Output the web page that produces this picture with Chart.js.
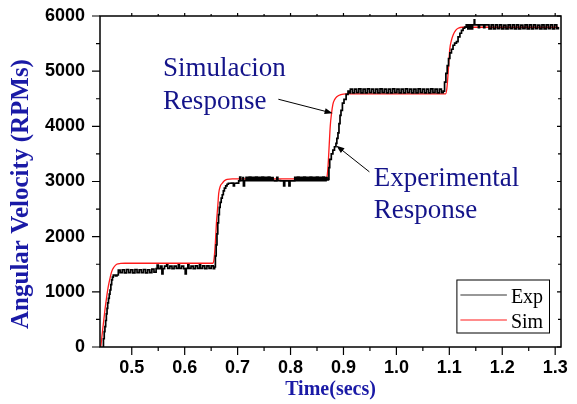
<!DOCTYPE html>
<html><head><meta charset="utf-8">
<script src="https://cdn.jsdelivr.net/npm/chart.js@4.4.1/dist/chart.umd.min.js"></script>
<style>html,body{margin:0;padding:0;background:#fff;overflow:hidden}#wrap{width:577px;height:404px;position:relative}</style>
</head><body><div id="wrap"><canvas id="c" width="577" height="404"></canvas></div>
<script>
// ---- tick labels ----
const xTicks = [0.5, 0.6, 0.7, 0.8, 0.9, 1.0, 1.1, 1.2, 1.3];
const yTicks = [0, 1000, 2000, 3000, 4000, 5000, 6000];

// ---- simulated response (red) [time s, rpm] ----
const simCurve = [[0.4415,0],[0.4435,180],[0.4455,350],[0.4475,520],[0.4493,670],[0.4525,900],[0.4556,1093],[0.4590,1250],[0.4620,1365],[0.4665,1450],[0.4715,1500],[0.4790,1514],[0.4873,1518],[0.6535,1518],[0.6555,1600],[0.6580,1900],[0.6600,2250],[0.6625,2550],[0.6643,2786],[0.6675,2920],[0.6708,2968],[0.6750,3015],[0.6800,3040],[0.6900,3046],[0.8670,3046],[0.8690,3090],[0.8710,3300],[0.8730,3650],[0.8750,4000],[0.8775,4240],[0.8800,4400],[0.8830,4480],[0.8880,4540],[0.8950,4575],[0.9050,4590],[1.0930,4590],[1.0955,4700],[1.0980,5000],[1.1008,5397],[1.1040,5560],[1.1072,5657],[1.1120,5740],[1.1167,5778],[1.1250,5796],[1.3060,5796]];

// ---- experimental response (black) [time s, rpm] ----
const expRise1 = [[0.4450,0],[0.4465,150],[0.4480,280],[0.4493,368],[0.4507,480],[0.4520,600],[0.4533,700],[0.4545,800],[0.4560,880],[0.4575,960],[0.4589,1033],[0.4605,1130],[0.4620,1215],[0.4635,1265],[0.4651,1305],[0.4690,1290],[0.4720,1305]];
const expLevel1 = [[0.4746,1396],[0.478,1350],[0.482,1400],[0.486,1345],[0.490,1405],[0.494,1350],[0.498,1400],[0.502,1345],[0.506,1405],[0.510,1350],[0.514,1400],[0.518,1350],[0.522,1405],[0.526,1345],[0.530,1400],[0.534,1350],[0.538,1410],[0.542,1355],[0.546,1420],[0.548,1485],[0.550,1420],[0.554,1465],[0.557,1325],[0.559,1420],[0.562,1465],[0.566,1490],[0.568,1425],[0.572,1465],[0.576,1420],[0.580,1465],[0.584,1425],[0.588,1490],[0.590,1425],[0.594,1465],[0.598,1420],[0.601,1325],[0.603,1425],[0.606,1490],[0.608,1425],[0.612,1465],[0.616,1420],[0.620,1470],[0.624,1425],[0.628,1490],[0.630,1425],[0.634,1470],[0.638,1420],[0.642,1470],[0.646,1425],[0.650,1470],[0.654,1420]];
const expRise2 = [[0.6565,1450],[0.6580,1650],[0.6595,1850],[0.6610,2050],[0.6625,2250],[0.6640,2400],[0.6655,2530],[0.6670,2620],[0.6690,2700],[0.6710,2760],[0.6730,2830],[0.6750,2880],[0.6775,2920],[0.6800,2950],[0.6825,2968]];
const expLevel2 = [[0.688,2970],[0.692,2920],[0.694,2968],[0.698,2970],[0.702,3010],[0.704,3080],[0.706,3015],[0.710,3070],[0.711,2920],[0.713,3015],[0.716,3075],[0.719,3015],[0.722,3080],[0.725,3015],[0.728,3075],[0.731,3015],[0.734,3080],[0.737,3015],[0.740,3075],[0.743,3015],[0.746,3080],[0.749,3015],[0.752,3075],[0.755,3015],[0.758,3080],[0.761,3015],[0.764,3070],[0.767,3015],[0.770,3010],[0.774,3075],[0.776,3015],[0.781,3010],[0.787,2920],[0.789,3010],[0.797,2920],[0.799,3010],[0.806,3010],[0.808,3075],[0.810,3015],[0.813,3080],[0.816,3015],[0.819,3075],[0.822,3015],[0.825,3080],[0.828,3015],[0.831,3075],[0.834,3015],[0.837,3080],[0.840,3015],[0.843,3075],[0.846,3015],[0.849,3080],[0.852,3015],[0.855,3075],[0.858,3015],[0.861,3080],[0.864,3015],[0.867,3070],[0.869,3030]];
const expRise3 = [[0.8710,3040],[0.8725,3250],[0.8740,3400],[0.8770,3500],[0.8800,3570],[0.8830,3630],[0.8858,3690],[0.8875,3780],[0.8896,3880],[0.8915,4050],[0.8935,4200],[0.8953,4290],[0.8980,4420],[0.9010,4490],[0.9050,4580],[0.9086,4640]];
const expLevel3 = [[0.911,4605],[0.913,4675],[0.917,4605],[0.921,4675],[0.925,4610],[0.929,4680],[0.933,4605],[0.937,4675],[0.941,4605],[0.945,4680],[0.949,4610],[0.953,4675],[0.957,4605],[0.961,4675],[0.965,4605],[0.969,4680],[0.973,4610],[0.977,4675],[0.981,4605],[0.985,4675],[0.989,4605],[0.993,4680],[0.997,4610],[1.001,4675],[1.005,4605],[1.009,4675],[1.013,4605],[1.017,4680],[1.021,4610],[1.025,4675],[1.029,4605],[1.033,4675],[1.037,4605],[1.041,4680],[1.045,4610],[1.049,4675],[1.053,4605],[1.057,4675],[1.061,4605],[1.065,4680],[1.069,4610],[1.073,4675],[1.077,4605],[1.081,4675],[1.085,4610],[1.0885,4640]];
const expRise4 = [[1.0910,4800],[1.0935,4960],[1.0960,5100],[1.0985,5230],[1.1010,5330],[1.1040,5397],[1.1070,5470],[1.1100,5510],[1.1135,5535],[1.1165,5620],[1.1200,5687],[1.1230,5740],[1.1260,5778],[1.1290,5800]];
const expLevel4 = [[1.132,5838],[1.135,5765],[1.138,5838],[1.141,5765],[1.144,5838],[1.147,5930],[1.148,5838],[1.152,5838],[1.155,5790],[1.157,5838],[1.162,5838],[1.165,5790],[1.167,5838],[1.172,5838],[1.175,5765],[1.179,5838],[1.183,5765],[1.187,5838],[1.191,5770],[1.195,5838],[1.199,5765],[1.203,5835],[1.207,5765],[1.211,5838],[1.215,5770],[1.219,5838],[1.223,5765],[1.227,5838],[1.231,5765],[1.235,5835],[1.239,5770],[1.243,5838],[1.247,5765],[1.251,5838],[1.255,5765],[1.259,5838],[1.263,5770],[1.267,5835],[1.271,5765],[1.275,5838],[1.279,5765],[1.283,5838],[1.287,5770],[1.291,5838],[1.295,5765],[1.299,5838],[1.303,5770],[1.306,5800]];

const expCurve = [].concat(expRise1, expLevel1, expRise2, expLevel2, expRise3, expLevel3, expRise4, expLevel4);
const toXY = arr => arr.map(p => ({x: p[0], y: p[1]}));

const xMinor = xTicks.slice(0, -1).map((v, i) => (v + xTicks[i + 1]) / 2);
const yMinor = yTicks.slice(0, -1).map((v, i) => (v + yTicks[i + 1]) / 2);

const TITLE_BLUE = '#1a1aa6';
const NOTE_BLUE = '#14148a';

const notes = [
  {lines: ['Simulacion', 'Response'], x: 0.5588, y: [4913, 4323]},
  {lines: ['Experimental', 'Response'], x: 0.9573, y: [2916, 2331]}
];
const arrows = [
  {from: [0.777, 4491], to: [0.8795, 4238]},
  {from: [0.949, 3175], to: [0.8867, 3649]}
];

const framePlugin = {
  id: 'frame',
  afterDatasetsDraw(chart) {
    const {ctx, chartArea: a, scales: {x, y}} = chart;
    ctx.save();
    ctx.strokeStyle = '#000';
    ctx.lineWidth = 1.5;
    ctx.strokeRect(a.left, a.top, a.right - a.left, a.bottom - a.top);
    ctx.lineWidth = 1.2;
    ctx.beginPath();
    const t = (px, py, dx, dy) => { ctx.moveTo(px, py); ctx.lineTo(px + dx, py + dy); };
    xTicks.forEach(v => { const p = x.getPixelForValue(v); t(p, a.bottom, 0, 8); t(p, a.top, 0, -3); });
    xMinor.forEach(v => { const p = x.getPixelForValue(v); t(p, a.bottom, 0, 4); t(p, a.top, 0, -2); });
    yTicks.forEach(v => { const p = y.getPixelForValue(v); t(a.left, p, -8, 0); t(a.right, p, -4, 0); });
    yMinor.forEach(v => { const p = y.getPixelForValue(v); t(a.left, p, -4, 0); t(a.right, p, -3, 0); });
    ctx.stroke();

    // annotations
    ctx.fillStyle = NOTE_BLUE;
    ctx.font = '27px "Liberation Serif"';
    ctx.textAlign = 'left';
    ctx.textBaseline = 'alphabetic';
    notes.forEach(n => n.lines.forEach((s, i) => ctx.fillText(s, x.getPixelForValue(n.x), y.getPixelForValue(n.y[i]))));
    ctx.strokeStyle = '#000';
    ctx.fillStyle = '#000';
    ctx.lineWidth = 1;
    arrows.forEach(ar => {
      const x1 = x.getPixelForValue(ar.from[0]), y1 = y.getPixelForValue(ar.from[1]);
      const x2 = x.getPixelForValue(ar.to[0]), y2 = y.getPixelForValue(ar.to[1]);
      const ang = Math.atan2(y2 - y1, x2 - x1);
      ctx.beginPath(); ctx.moveTo(x1, y1); ctx.lineTo(x2 - 6 * Math.cos(ang), y2 - 6 * Math.sin(ang)); ctx.stroke();
      ctx.beginPath();
      ctx.moveTo(x2, y2);
      ctx.lineTo(x2 - 8 * Math.cos(ang) + 3 * Math.sin(ang), y2 - 8 * Math.sin(ang) - 3 * Math.cos(ang));
      ctx.lineTo(x2 - 8 * Math.cos(ang) - 3 * Math.sin(ang), y2 - 8 * Math.sin(ang) + 3 * Math.cos(ang));
      ctx.closePath(); ctx.fill();
    });

    // legend
    const bw = 92.6, bh = 53;
    const bx = a.right - 11.5 - bw, by = a.bottom - 14 - bh;
    ctx.fillStyle = '#fff';
    ctx.fillRect(bx, by, bw, bh);
    ctx.strokeStyle = '#000'; ctx.lineWidth = 1;
    ctx.strokeRect(bx, by, bw, bh);
    ctx.font = '20px "Liberation Serif"';
    chart.data.datasets.forEach((ds, i) => {
      const ry = by + 15 + i * 25;
      ctx.strokeStyle = ds.legendColor || ds.borderColor; ctx.lineWidth = 1.2;
      ctx.beginPath(); ctx.moveTo(bx + 3.5, ry); ctx.lineTo(bx + 50, ry); ctx.stroke();
      ctx.fillStyle = '#000';
      ctx.fillText(ds.label, bx + 54, ry + 7.5);
    });
    ctx.restore();
  }
};

new Chart(document.getElementById('c'), {
  type: 'line',
  data: {
    datasets: [
      {label: 'Exp', data: toXY(expCurve), borderColor: '#000', legendColor: '#333', borderWidth: 1.7, pointRadius: 0, stepped: true, fill: false},
      {label: 'Sim', data: toXY(simCurve), borderColor: '#ff1a1a', borderWidth: 1.3, pointRadius: 0, cubicInterpolationMode: 'monotone', fill: false}
    ]
  },
  options: {
    responsive: false,
    animation: false,
    devicePixelRatio: 1,
    layout: {padding: {top: 16, right: 16, left: 0, bottom: 0}},
    plugins: {legend: {display: false}, tooltip: {enabled: false}},
    scales: {
      x: {
        type: 'linear', min: 0.44, max: 1.311,
        afterBuildTicks: s => { s.ticks = xTicks.map(v => ({value: v})); },
        afterFit: s => { s.height = 57; s.paddingLeft = 0; s.paddingRight = 0; },
        grid: {display: false, drawTicks: false},
        border: {display: false},
        ticks: {callback: v => Number(v).toFixed(1), color: '#000', padding: 10, maxRotation: 0, autoSkip: false,
          font: {family: '"Liberation Sans"', weight: 'bold', size: 18}},
        title: {display: true, text: 'Time(secs)', color: TITLE_BLUE, padding: {top: 0, bottom: 2},
          font: {family: '"Liberation Serif"', weight: 'bold', size: 20}}
      },
      y: {
        type: 'linear', min: 0, max: 6000,
        afterBuildTicks: s => { s.ticks = yTicks.map(v => ({value: v})); },
        afterFit: s => { s.width = 100; s.paddingTop = 0; s.paddingBottom = 0; },
        grid: {display: false, drawTicks: false},
        border: {display: false},
        ticks: {callback: v => String(v), color: '#000', padding: 15, autoSkip: false,
          font: {family: '"Liberation Sans"', weight: 'bold', size: 18}},
        title: {display: true, text: 'Angular Velocity (RPMs)    ', color: TITLE_BLUE, padding: {top: 7, bottom: 0},
          font: {family: '"Liberation Serif"', weight: 'bold', size: 25}}
      }
    }
  },
  plugins: [framePlugin]
});
</script>
</body></html>
